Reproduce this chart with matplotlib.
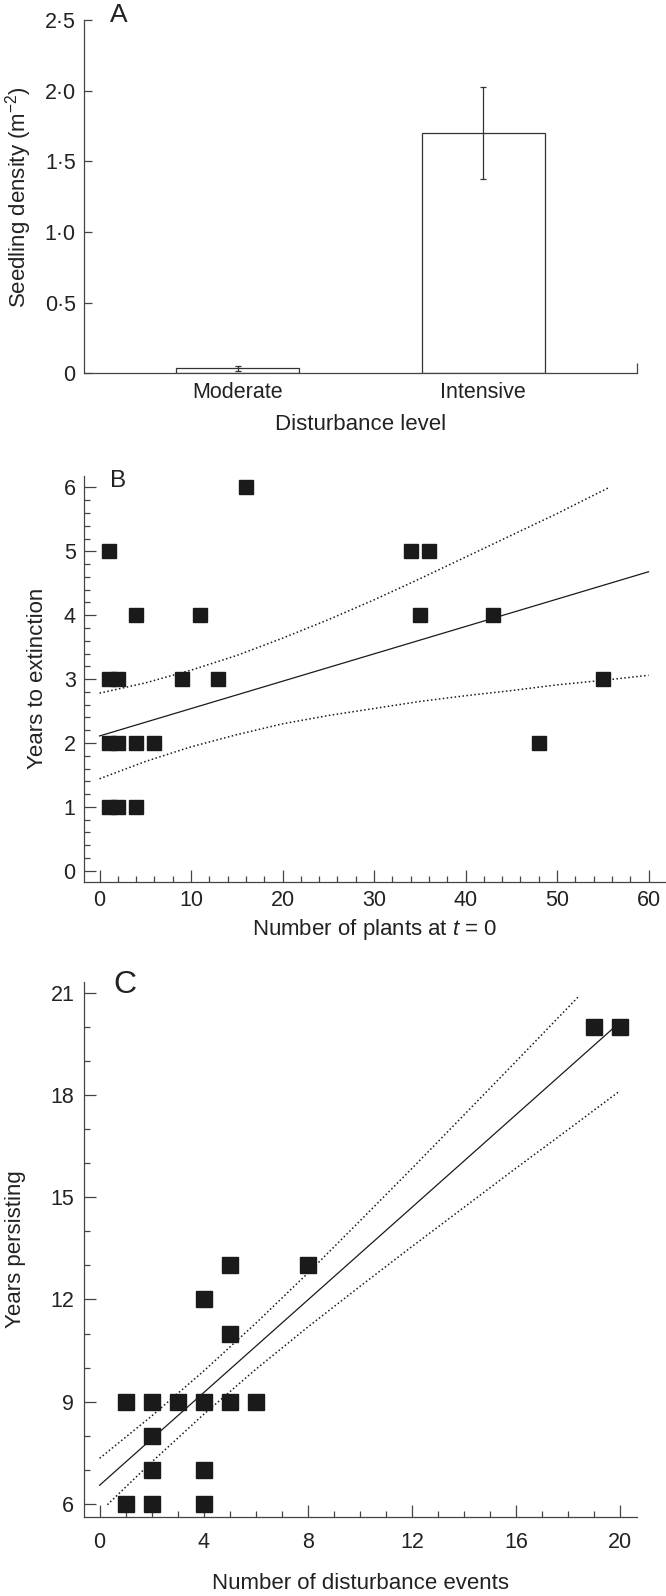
import numpy as np
import matplotlib.pyplot as plt

plt.rcParams['font.family'] = ['Liberation Sans', 'DejaVu Sans']
plt.rcParams['mathtext.fontset'] = 'custom'
plt.rcParams['mathtext.rm'] = 'Liberation Sans'
plt.rcParams['mathtext.it'] = 'Liberation Sans:italic'

# Panel A: seedling density by disturbance level
levels = ['Moderate', 'Intensive']
density = [0.036, 1.70]
density_err = [0.018, 0.325]
density_ticks = [0, 0.5, 1.0, 1.5, 2.0, 2.5]
density_ticklabels = ['0', '0·5', '1·0', '1·5', '2·0', '2·5']

# Panel B: years to extinction vs number of plants at t = 0
plants_t0 = [1, 16, 34, 36, 4, 11, 35, 43, 1, 2, 9, 13, 55, 1, 2, 4, 6, 48, 1, 2, 4]
years_extinct = [5, 6, 5, 5, 4, 4, 4, 4, 3, 3, 3, 3, 3, 2, 2, 2, 2, 2, 1, 1, 1]
fit_b_x = [0, 60]
fit_b_y = [2.11, 4.68]
ci_b_up_x = [0, 5, 10, 15, 20, 25, 30, 35, 40, 45, 50, 55.7]
ci_b_up_y = [2.78, 2.94, 3.14, 3.37, 3.64, 3.93, 4.24, 4.57, 4.91, 5.25, 5.59, 6.0]
ci_b_lo_x = [0, 5, 10, 15, 20, 25, 30, 35, 40, 45, 50, 55, 60]
ci_b_lo_y = [1.44, 1.71, 1.94, 2.13, 2.30, 2.43, 2.54, 2.65, 2.74, 2.82, 2.91, 2.98, 3.06]

# Panel C: years persisting vs number of disturbance events
events = [5, 8, 4, 5, 1, 2, 3, 4, 5, 6, 2, 2, 4, 1, 2, 4, 19, 20]
years_persist = [13, 13, 12, 11, 9, 9, 9, 9, 9, 9, 8, 7, 7, 6, 6, 6, 20, 20]
fit_c_x = [0, 19.7]
fit_c_y = [6.55, 19.93]
ci_c_up_x = [0, 2, 4, 6, 8, 10, 12, 14, 16, 18.4]
ci_c_up_y = [7.34, 8.58, 9.90, 11.30, 12.77, 14.30, 15.84, 17.41, 18.98, 20.88]
ci_c_lo_x = [0.3, 2, 4, 6, 8, 10, 12, 14, 16, 18, 20]
ci_c_lo_y = [5.98, 7.23, 8.63, 9.95, 11.19, 12.38, 13.55, 14.70, 15.85, 16.98, 18.12]

ink = '#222222'
spine_col = '#444444'
tick_fs = 15.5
label_fs = 16


def style_axes(ax):
    for side in ['top', 'right']:
        ax.spines[side].set_visible(False)
    for side in ['left', 'bottom']:
        ax.spines[side].set_color(spine_col)
        ax.spines[side].set_linewidth(0.9)
    ax.tick_params(which='both', direction='in', color=spine_col, width=0.9,
                   labelsize=tick_fs, labelcolor=ink)


fig = plt.figure(figsize=(6.66, 15.96), dpi=100)

# ---- A ----
axA = fig.add_axes([0.1261, 0.7661, 0.8303, 0.2214])
style_axes(axA)
xA = np.arange(len(levels))
axA.bar(xA, density, width=0.5, color='white', edgecolor='#333333', linewidth=0.9)
axA.errorbar(xA, density, yerr=density_err, fmt='none', ecolor='#333333',
             elinewidth=0.9, capsize=2.5, capthick=0.9)
axA.set_xlim(-0.625, 1.625)
axA.set_ylim(0, 2.5)
axA.set_yticks(density_ticks)
axA.set_yticklabels(density_ticklabels)
axA.set_xticks(xA)
axA.set_xticklabels(levels)
axA.set_xticks([1.625], minor=True)
axA.tick_params(axis='x', which='major', length=0, pad=6.5)
axA.tick_params(axis='x', which='minor', length=7)
axA.tick_params(axis='y', which='major', length=6, pad=6)
axA.set_ylabel('Seedling density (m$^{-2}$)', fontsize=label_fs, color=ink)
axA.yaxis.set_label_coords(-0.119, 0.5)
axA.yaxis.label.set_va('center')
axA.set_xlabel('Disturbance level', fontsize=label_fs, color=ink)
axA.xaxis.set_label_coords(0.5, -0.1435)
axA.xaxis.label.set_va('center')

# ---- B ----
axB = fig.add_axes([0.1261, 0.4476, 0.8724, 0.2542])
style_axes(axB)
axB.plot(plants_t0, years_extinct, linestyle='none', marker='s', ms=9.7,
         color='#1a1a1a', mec='#1a1a1a', zorder=3)
axB.plot(fit_b_x, fit_b_y, color='#1a1a1a', lw=0.9)
axB.plot(ci_b_up_x, ci_b_up_y, color='#1a1a1a', lw=1.1, linestyle=(0, (1, 1.6)))
axB.plot(ci_b_lo_x, ci_b_lo_y, color='#1a1a1a', lw=1.1, linestyle=(0, (1, 1.6)))
axB.set_xlim(-1.7, 61.8)
axB.set_ylim(-0.17, 6.18)
axB.set_xticks(np.arange(0, 61, 10))
axB.set_xticks(np.arange(0, 61, 2), minor=True)
axB.set_yticks(np.arange(0, 7, 1))
axB.set_yticks(np.arange(0, 6.01, 0.2), minor=True)
axB.tick_params(axis='both', which='major', length=8.5)
axB.tick_params(axis='both', which='minor', length=4.5)
axB.tick_params(axis='x', which='major', pad=6)
axB.tick_params(axis='y', which='major', pad=6)
axB.set_ylabel('Years to extinction', fontsize=label_fs, color=ink)
axB.yaxis.set_label_coords(-0.0792, 0.5)
axB.yaxis.label.set_va('center')
axB.set_xlabel('Number of plants at $t$ = 0', fontsize=label_fs, color=ink)
axB.xaxis.set_label_coords(0.5, -0.119)
axB.xaxis.label.set_va('center')

# ---- C ----
axC = fig.add_axes([0.1261, 0.0493, 0.8303, 0.3356])
style_axes(axC)
axC.plot(events, years_persist, linestyle='none', marker='s', ms=12,
         color='#1a1a1a', mec='#1a1a1a', zorder=3)
axC.plot(fit_c_x, fit_c_y, color='#1a1a1a', lw=0.9)
axC.plot(ci_c_up_x, ci_c_up_y, color='#1a1a1a', lw=1.1, linestyle=(0, (1, 1.6)))
axC.plot(ci_c_lo_x, ci_c_lo_y, color='#1a1a1a', lw=1.1, linestyle=(0, (1, 1.6)))
axC.set_xlim(-0.6, 20.65)
axC.set_ylim(5.61, 21.32)
axC.set_xticks(np.arange(0, 21, 4))
axC.set_xticks(np.arange(0, 21, 1), minor=True)
axC.set_yticks(np.arange(6, 22, 3))
axC.set_yticks(np.arange(6, 22, 1), minor=True)
axC.tick_params(axis='both', which='major', length=8.5)
axC.tick_params(axis='both', which='minor', length=4.5)
axC.tick_params(axis='x', which='major', pad=10.5)
axC.tick_params(axis='y', which='major', pad=7)
axC.set_ylabel('Years persisting', fontsize=label_fs, color=ink)
axC.yaxis.set_label_coords(-0.123, 0.5)
axC.yaxis.label.set_va('center')
axC.set_xlabel('Number of disturbance events', fontsize=label_fs, color=ink)
axC.xaxis.set_label_coords(0.5, -0.1227)
axC.xaxis.label.set_va('center')

# panel letters
fig.text(119 / 666, 1 - 15.3 / 1596, 'A', fontsize=19, color=ink, ha='center', va='center')
fig.text(118 / 666, 1 - 480.7 / 1596, 'B', fontsize=17.5, color=ink, ha='center', va='center')
fig.text(125 / 666, 1 - 985 / 1596, 'C', fontsize=23, color=ink, ha='center', va='center')

fig.savefig('out.png', dpi=100)
